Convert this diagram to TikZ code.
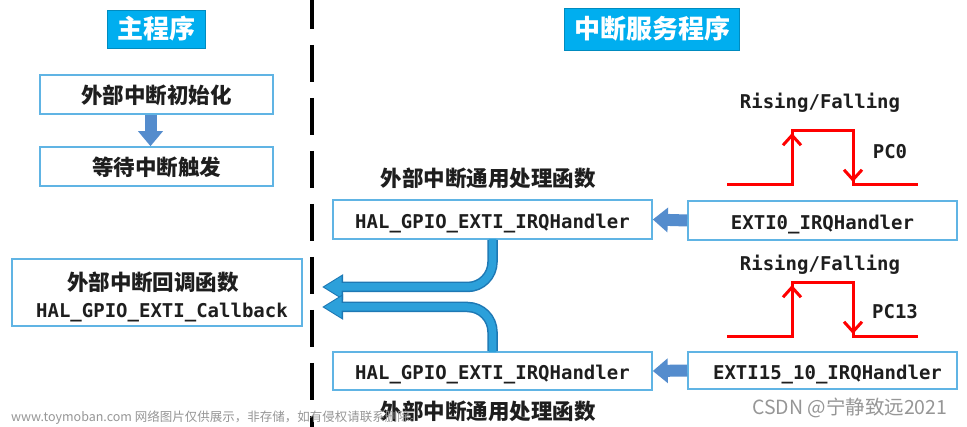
\documentclass[tikz,border=0pt]{standalone}
\usepackage{fontspec}
\newfontfamily\cjk{Noto Sans CJK SC}
\newfontfamily\mono{DejaVu Sans Mono}
\usetikzlibrary{arrows.meta}
\definecolor{boxblue}{RGB}{96,180,228}
\definecolor{titleblue}{RGB}{0,174,239}
\definecolor{blockblue}{RGB}{84,140,205}
\definecolor{curveblue}{RGB}{44,160,218}
\definecolor{curveedge}{RGB}{30,120,180}
\definecolor{txt}{RGB}{30,30,30}
\definecolor{wm}{RGB}{150,150,150}
\tikzset{
  box/.style={draw=boxblue, line width=1.6pt, fill=white, inner sep=0pt, text=txt},
  monobox/.style={box, font=\mono\bfseries\fontsize{19}{23}\selectfont, text height=18pt, text depth=0pt},
  cjkbox/.style={box, font=\cjk\bfseries\fontsize{21.5}{26}\selectfont, text height=19pt, text depth=0pt},
  title/.style={fill=titleblue, draw=titleblue!80!black, line width=0.6pt, inner sep=0pt, text=white,
    font=\cjk\bfseries\fontsize{26}{30}\selectfont},
  cjklbl/.style={text=txt, inner sep=0pt, font=\cjk\bfseries\fontsize{21.5}{26}\selectfont},
  monolbl/.style={text=txt, inner sep=0pt, font=\mono\bfseries\fontsize{19}{23}\selectfont},
  blockarrow/.style={draw=blockblue, line width=12pt, -{Triangle[width=24pt,length=15pt]}},
  curveouter/.style={draw=curveedge, line width=10.5pt, rounded corners=25pt, -{Triangle[width=24pt,length=21pt]}},
  curveinner/.style={draw=curveblue, line width=7.5pt, rounded corners=25pt, -{Triangle[width=20pt,length=17.5pt]}, shorten >=2pt},
  pulse/.style={draw=red, line width=3pt},
  pulsearrow/.style={draw=red, line width=3pt, -{Straight Barb[length=10pt,width=18pt]}},
  divider/.style={draw=black, line width=4pt, dash pattern=on 37pt off 16pt, dash phase=8pt},
}
\begin{document}
\begin{tikzpicture}[x=1pt,y=-1pt]
\useasboundingbox[fill=white] (0,0) rectangle (967,427);

% divider
\coordinate (dtop) at (312,0);
\coordinate (dbot) at (312,427);
\draw[divider] (dtop) -- (dbot);

% titles
\node[title, minimum width=98pt, minimum height=38pt] (t1) at (156,29) {主程序};
\node[title, minimum width=175pt, minimum height=42pt] (t2) at (652,29) {中断服务程序};

% main program boxes
\node[cjkbox, minimum width=233pt, minimum height=39pt] (init) at (156.5,94.5) {外部中断初始化};
\node[cjkbox, minimum width=233pt, minimum height=39pt] (wait) at (156.5,166.5) {等待中断触发};
\draw[blockarrow] ([xshift=-6pt]init.south) -- ([xshift=-6pt]wait.north);

% callback box
\node[box, minimum width=290pt, minimum height=67pt, align=center] (cb) at (157,292.5)
  {{\cjk\bfseries\fontsize{21.5}{26}\selectfont\rule{0pt}{27pt}\hspace*{-8pt}外部中断回调函数}\\[9pt]
   {\mono\bfseries\fontsize{19}{23}\selectfont\hspace*{10pt}HAL\_GPIO\_EXTI\_Callback}};

% generic handlers
\node[monobox, minimum width=319pt, minimum height=39pt] (h1) at (492.5,219.5) {HAL\_GPIO\_EXTI\_IRQHandler};
\node[monobox, minimum width=319pt, minimum height=38pt] (h2) at (492.5,371) {HAL\_GPIO\_EXTI\_IRQHandler};
\node[cjklbl] (l1) at (488,178) {外部中断通用处理函数};
\node[cjklbl] (l2) at (488,411) {外部中断通用处理函数};

% EXTI handlers
\node[monobox, minimum width=269pt, minimum height=39pt] (e0) at (822.5,220.5) {EXTI0\_IRQHandler};
\node[monobox, minimum width=269pt, minimum height=37pt] (e15) at (822.5,370.5) {\hspace*{10pt}EXTI15\_10\_IRQHandler};

\draw[blockarrow] (e0.west) -- (h1.east);
\draw[blockarrow] (e15.west) -- (h2.east);

% curved arrows to callback
\coordinate (tip1) at (322,287);
\coordinate (tip2) at (322,307);
\draw[curveouter] (h1.south) -- (h1.south |- tip1) -- (tip1);
\draw[curveinner] ([yshift=1pt]h1.south) -- (h1.south |- tip1) -- (tip1);
\draw[curveouter] (h2.north) -- (h2.north |- tip2) -- (tip2);
\draw[curveinner] ([yshift=-1pt]h2.north) -- (h2.north |- tip2) -- (tip2);

% pulse PC0
\node[monolbl] (rf1) at (820,103) {Rising/Falling};
\node[monolbl] (pc0) at (890,152) {PC0};
\coordinate (a1) at (727,185);
\coordinate (a2) at (792,185);
\coordinate (a3) at (792,131);
\coordinate (a4) at (853,131);
\coordinate (a5) at (853,185);
\coordinate (a6) at (918,185);
\draw[pulse, line join=miter] (a1) -- (a2) -- (a3) -- (a4) -- (a5) -- (a6);
\draw[pulsearrow] (a2) -- ([yshift=-2pt]a3);
\draw[pulsearrow] (a4) -- ([yshift=3pt]a5);

% pulse PC13
\node[monolbl] (rf2) at (820,265) {Rising/Falling};
\node[monolbl] (pc13) at (895,312) {PC13};
\coordinate (b1) at (727,337);
\coordinate (b2) at (792,337);
\coordinate (b3) at (792,283);
\coordinate (b4) at (853,283);
\coordinate (b5) at (853,337);
\coordinate (b6) at (918,337);
\draw[pulse, line join=miter] (b1) -- (b2) -- (b3) -- (b4) -- (b5) -- (b6);
\draw[pulsearrow] (b2) -- ([yshift=-2pt]b3);
\draw[pulsearrow] (b4) -- ([yshift=3pt]b5);

% watermarks
\node[anchor=west, inner sep=0pt, text=wm, font=\cjk\fontsize{12.5}{15}\selectfont] (wm1) at (11,418)
  {www.toymoban.com 网络图片仅供展示，非存储，如有侵权请联系删除。};
\node[anchor=west, inner sep=0pt, text=wm, font=\cjk\fontsize{19.5}{23}\selectfont] (wm2) at (752,408)
  {CSDN @宁静致远2021};
\end{tikzpicture}
\end{document}
